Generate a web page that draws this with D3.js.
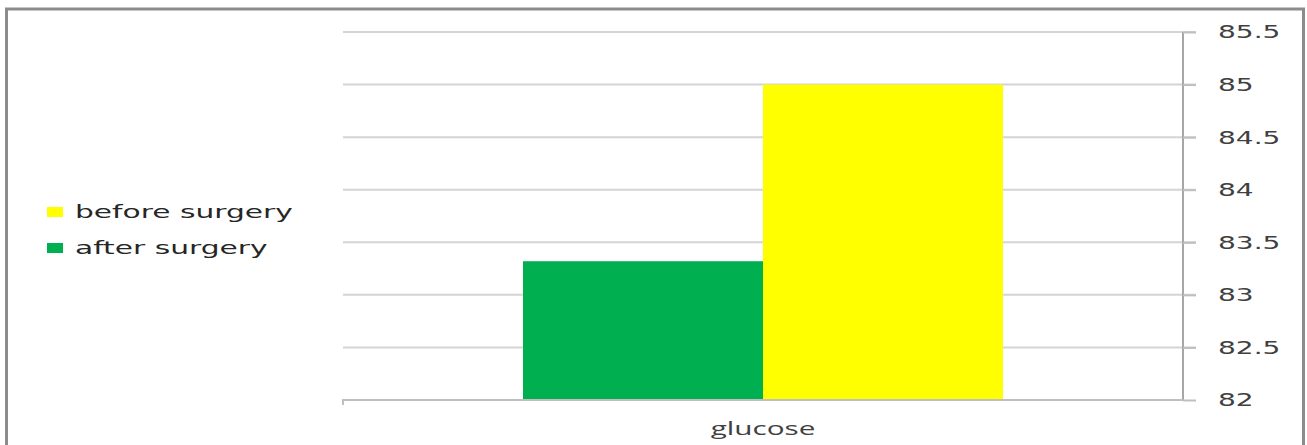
<!DOCTYPE html>
<html><head><meta charset="utf-8">
<script src="https://cdn.jsdelivr.net/npm/d3@7"></script>
<style>body{margin:0;background:#fff}svg{display:block}</style>
</head><body>
<script>
const categories = ["glucose"];
const seriesNames = ["after surgery", "before surgery"];
const afterValues = [83.32];
const beforeValues = [85];
const yTicks = [82, 82.5, 83, 83.5, 84, 84.5, 85, 85.5];
const legendOrder = ["before surgery", "after surgery"];
const colors = {"after surgery": "#00b050", "before surgery": "#ffff00"};

(function () {
const W = 1307, H = 445, SX = 1.65;
const svg = d3.select("body").append("svg").attr("width", W).attr("height", H);
svg.append("rect").attr("x", 6.5).attr("y", 9).attr("width", 1297).attr("height", 450)
  .attr("fill", "#fff").attr("stroke", "#8c8c8c").attr("stroke-width", 3);

const mLeft = 343, mRight = 1183, mTop = 32, mBottom = 400;
const y = d3.scaleLinear().domain([82, 85.5]).range([mBottom, mTop]);
const x0 = d3.scaleBand().domain(categories).range([mLeft, mRight]).paddingInner(0).paddingOuter(0);
const x1 = d3.scaleBand().domain(seriesNames).range([0, x0.bandwidth()]).paddingInner(0).paddingOuter(0.75);

svg.append("g").selectAll("line").data(yTicks.filter(d => d > 82)).join("line")
  .attr("x1", mLeft).attr("x2", mRight + 13).attr("y1", d => y(d)).attr("y2", d => y(d))
  .attr("stroke", "#d4d4d4").attr("stroke-width", 2);

const data = categories.map((c, i) => ({c, vals: [afterValues[i], beforeValues[i]]}));
svg.append("g").selectAll("g").data(data).join("g")
  .attr("transform", d => `translate(${x0(d.c)},0)`)
  .selectAll("rect").data(d => d.vals.map((v, j) => ({name: seriesNames[j], v}))).join("rect")
  .attr("x", d => x1(d.name)).attr("width", x1.bandwidth())
  .attr("y", d => y(d.v)).attr("height", d => mBottom - y(d.v))
  .attr("fill", d => colors[d.name]);

const yAxis = d3.axisRight(y).tickValues(yTicks).tickSize(13).tickPadding(22).tickFormat(d3.format("~g"));
const ga = svg.append("g").attr("transform", `translate(${mRight},0)`).call(yAxis);
ga.select(".domain").attr("stroke", "#a6a6a6").attr("stroke-width", 2).attr("d", `M0,${mTop}V${mBottom}`);
ga.selectAll(".tick line").attr("stroke", "#bfbfbf").attr("stroke-width", 2);
ga.selectAll(".tick text").attr("fill", "#404040").style("font-family", "DejaVu Sans, Verdana, sans-serif")
  .style("font-size", "17px").attr("dy", "0.35em").attr("x", 0)
  .attr("transform", `translate(35,0) scale(${SX},1)`);

const xAxis = d3.axisBottom(x0).tickSize(0).tickPadding(22);
const gx = svg.append("g").attr("transform", `translate(0,${mBottom})`).call(xAxis);
gx.select(".domain").attr("stroke", "#bfbfbf").attr("stroke-width", 2).attr("d", `M${mLeft},5V0H${mRight}`);
gx.selectAll(".tick text").attr("fill", "#404040").style("font-family", "Open Sans, Calibri, sans-serif")
  .style("font-size", "18px").attr("dy", "0.71em").attr("transform", `scale(${SX},1)`);

const lg = svg.append("g").selectAll("g").data(legendOrder).join("g")
  .attr("transform", (d, i) => `translate(47,${212 + i * 36})`);
lg.append("rect").attr("x", 0).attr("y", -5).attr("width", 16).attr("height", 10).attr("fill", d => colors[d]);
lg.append("text").attr("x", 0).attr("y", 0).attr("dy", "0.35em").text(d => d)
  .attr("transform", `translate(28,0) scale(${SX},1)`)
  .attr("fill", "#262626").style("font-family", "DejaVu Sans, Verdana, sans-serif").style("font-size", "18px");
})();
</script>
</body></html>
